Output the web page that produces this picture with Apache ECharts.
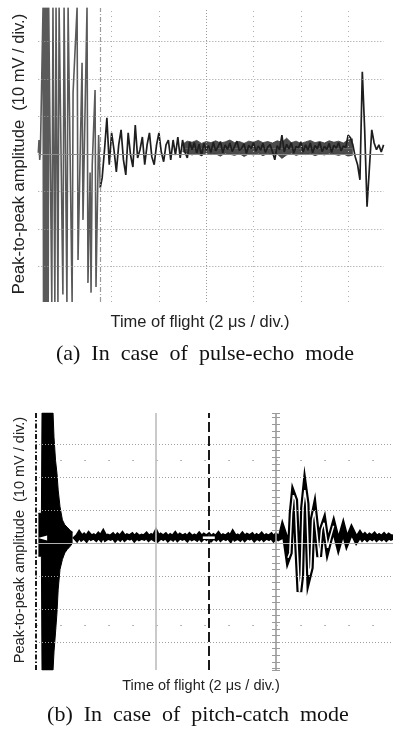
<!DOCTYPE html>
<html><head><meta charset="utf-8">
<script src="https://cdn.jsdelivr.net/npm/echarts@6/dist/echarts.min.js"></script>
<style>html,body{margin:0;padding:0;background:#fff}#c{width:393px;height:731px}</style>
</head><body><div id="c"></div>
<script>
// ---------------- DATA ----------------
// (a) pulse-echo : time in µs, amplitude in mV
const topBurstT = [0.90,0.93,0.96,0.99,1.06,1.10,1.12,1.14,1.16,1.18,1.20,1.22,1.24,1.26,1.28,1.30,1.32,1.34,1.47,1.52,1.60,1.65,1.73,1.78,1.94,1.99,2.11,2.16,2.33,2.37,2.54,2.58,2.75,2.79,2.96,3.00,3.09,3.13,3.18,3.30,3.34,3.45,3.52];
const topBurstV = [0.3,3.7,-1.6,1.0,0.5,39,-39.5,39,-39.5,39,-39.5,39,-39.5,39,-39.5,39,-39.5,39,-39.5,39,-39.5,39,-39.5,39,-37.5,39,-39.5,39,-39.5,16.3,39,-28.3,24.3,-17.6,39,-34.4,-5,-37,-3,17,-35.5,5,-9];
const topTailStart = 3.6, topTailStep = 0.1;
const topTailV = [
 -6.4,1.1,9.6,-2.9,5.6,1.1,-4.8,2.4,6.4,-1.6,
 -5.6,5.6,-0.3,-3.5,7.7,-1.1,1.1,4.5,-2.9,2.4,
 5.6,-0.8,-2.9,2.4,5.6,0.5,-2.1,2.4,3.7,-1.6,
 3.7,-0.3,4.5,-1.1,3.7,0.5,-1.1,3.2,1.1,3.0,
 0.2,2.6,-0.5,2.8,1.0,2.2,0.4,3.1,0.8,1.9,
 3.3,0.3,2.4,1.2,2.9,0.6,2.0,3.4,0.9,1.5,
 2.7,0.1,2.3,1.4,3.0,0.7,2.1,1.0,2.8,0.4,
 1.8,2.5,0.6,-1.6,2.2,1.1,5.0,0.5,2.6,1.3,
 3.0,0.2,2.0,1.6,3.2,0.5,2.4,1.0,2.9,0.3,
 2.2,1.4,3.1,0.6,2.0,1.2,2.8,0.4,2.3,1.5,
 3.0,0.8,2.1,1.7,5.0,4.3,2.4,-0.8,-2.9,-6.9,
 21.9,6.4,-14.1,-3.7,6.4,2.9,1.1,2.4,0.5,2.4];
// noise band (upper / lower extent of the dense trace), from 7.0 µs every 0.2 µs
const topBandStart = 7.0, topBandStep = 0.2, topBandMid = 1.5;
const topBandUp = [2.6,3.4,3.1,3.6,2.8,3.3,3.0, 3.5,2.9,3.2,3.7,3.0,3.3,2.8,3.4,3.1,3.6, 3.0,3.3,2.9,3.5,3.1,4.2,3.0,3.4,2.8,3.2, 3.6,3.0,3.3,2.9,3.5,3.1,3.4,2.9,3.7,4.0];
const topBandLo = [0.6,0.2,-0.3,0.1,-0.5,0.3,-0.2, 0.0,-0.6,0.2,-0.1,-0.4,0.1,-0.7,0.0,-0.3,0.2, -0.5,0.1,-0.2,0.0,-1.2,-0.3,0.2,-0.4,0.0,-0.2, 0.1,-0.5,0.0,-0.3,0.2,-0.1,-0.4,0.0,-0.6,-0.3];

// (b) pitch-catch
const botBurstT  = [0.2,0.45,0.5,1.42,1.5,1.63,1.75,1.85,2.0,2.2,2.4,2.6,2.85,3.05];
const botBurstUp = [9,9,39.4,39.4,32,25,21,16,11,7,5.5,4.8,3.8,3.3];
const botBurstLo = [-4,-4,-38.5,-38.5,-33,-27,-21,-14,-8,-5,-3,-2,-1,0];
const botNoiseStart = 3.2, botNoiseStep = 0.2;
const botNoiseV = [
 2.2,1.4,2.6,1.5,2.1,1.3,2.4,1.6,2.0,1.4,
 2.3,1.5,2.8,1.4,1.9,1.6,2.2,1.3,2.1,1.5,
 2.4,1.4,2.0,1.7,2.2,1.3,2.1,1.5,1.9,1.6,
 2.3,1.4,2.0,1.5,2.9,1.4,2.1,1.6,2.2,1.3,
 2.0,1.5,2.4,1.4,2.1,1.6,2.0,1.3,2.2,1.5,
 1.9,1.4,2.3,1.4,2.1,1.6,2.2,1.3,2.0,1.5,
 2.4,1.4,2.0,1.6,2.2,1.3,2.7,1.5,1.9,1.4,
 2.3,1.4,2.1,1.7,2.2,1.3,2.0,1.5,2.3,1.4,
 2.0,1.6,2.2,1.3,2.1,1.5,1.9];
const botEchoT = [20.55,20.75,21.0,21.15,21.3,21.45,21.6,21.75,21.95,22.1,22.25,22.4,22.55,22.75,22.9,23.05,23.2,23.4,23.6,23.8,24.0,24.3,24.55,24.8,25.2,25.6,25.9,26.3,26.7,27.0];
const botEchoV = [4.2,2.0,-4.5,-3.0,9.0,14.5,13.0,0.0,-14.8,-10.0,10.6,16.0,12.0,-9.7,-7.5,7.0,9.7,3.0,-4.2,4.0,6.1,-1.5,2.0,5.2,-0.6,4.5,0.3,3.9,0.9,2.6];
const botTailStart = 27.2, botTailStep = 0.2;
const botTailV = [1.5,2.2,1.4,2.1,1.6,2.3,1.4,2.0,1.5,2.2,1.4,2.1,1.6,1.9];

// graticule positions
const topVGrid = [4,6,10,12,14];
const topVCenter = 8;
const topCursor = 3.51;
const hGrid = [-30,-20,-10,10,20,30];
const botDotRows = [-25,25];
const botVSolid = [10,20];
const botCursor = 14.4;
const botRef = 0;

// texts
const yTitle = 'Peak-to-peak amplitude  (10 mV / div.)';
const xTitle = 'Time of flight (2 μs / div.)';
const captionA = '(a)  In  case  of  pulse-echo  mode';
const captionB = '(b)  In  case  of  pitch-catch  mode';

// ---------------- BUILD ----------------
const zip = (t, v) => t.map((x, i) => [x, v[i]]);
const seq = (s, d, v) => v.map((y, i) => [+(s + d * i).toFixed(3), y]);

const topBurst = zip(topBurstT, topBurstV);
const topTail = [topBurst[topBurst.length - 1]].concat(seq(topTailStart, topTailStep, topTailV));
const topBandHi = seq(topBandStart, topBandStep, topBandUp);
const topBandLow = seq(topBandStart, topBandStep, topBandLo);
const botUp = zip(botBurstT, botBurstUp);
const botLo = zip(botBurstT, botBurstLo);
const botTrace = seq(botNoiseStart, botNoiseStep, botNoiseV)
  .concat(zip(botEchoT, botEchoV))
  .concat(seq(botTailStart, botTailStep, botTailV));
const botEchoCore = zip(botEchoT, botEchoV).filter(p => p[0] >= 20.9 && p[0] <= 25.0);

const dotted = (c) => ({color: c, width: 1, type: [1, 2]});
const ml = (arr, key, style) => arr.map(v => ({[key]: v, lineStyle: style}));

const topMarks = []
  .concat(ml(hGrid, 'yAxis', dotted('#9a9a9a')))
  .concat(ml([0], 'yAxis', {color: '#8a8a8a', width: 1, type: 'solid'}))
  .concat(ml(topVGrid, 'xAxis', {color: '#b0b0b0', width: 1, type: [1, 4]}))
  .concat(ml([topVCenter], 'xAxis', {color: '#999', width: 1, type: [1, 2]}))
  .concat(ml([topCursor], 'xAxis', {color: '#9a9a9a', width: 1.2, type: [5, 2, 1, 2]}));

const botMarks = []
  .concat(ml(hGrid, 'yAxis', dotted('#a0a0a0')))
  .concat(ml(botDotRows, 'yAxis', {color: '#b5b5b5', width: 1, type: [2, 22], dashOffset: 0}))
  .concat(ml([0], 'yAxis', {color: '#b0b0b0', width: 1, type: 'solid'}))
  .concat(ml([botVSolid[0]], 'xAxis', {color: '#bdbdbd', width: 1.6, type: 'solid'}))
  .concat(ml([botVSolid[1]], 'xAxis', {color: '#9a9a9a', width: 1.6, type: 'solid'}))
  .concat(ml([botCursor], 'xAxis', {color: '#1a1a1a', width: 2, type: [10, 4]}))
  .concat(ml([botRef], 'xAxis', {color: '#1a1a1a', width: 2, type: [5, 2, 1.5, 2]}));

const markLineBase = {silent: true, symbol: 'none', label: {show: false}, animation: false};
const tickAxis = (pos, off) => ({
  gridIndex: 1, min: -38.5, max: 39.4, position: pos, offset: off, splitNumber: 8,
  axisLine: {show: false}, axisLabel: {show: false}, splitLine: {show: false},
  axisTick: {show: true, length: 4, lineStyle: {color: '#9a9a9a', width: 1}},
  minorTick: {show: true, splitNumber: 5, length: 4, lineStyle: {color: '#9a9a9a', width: 1}}
});
const band = (data) => ({type: 'line', xAxisIndex: 0, yAxisIndex: 0, data: data, symbol: 'none', z: 2,
  lineStyle: {color: '#3a3a3a', width: 0.8}, areaStyle: {color: '#2c2c2c', opacity: 0.85, origin: topBandMid}});

const chart = echarts.init(document.getElementById('c'), null, {renderer: 'canvas'});
chart.setOption({
  animation: false,
  backgroundColor: '#fff',
  grid: [
    {left: 38.3, right: 9.4, top: 8, height: 294},
    {left: 36, right: 0, top: 413, height: 257}
  ],
  xAxis: [
    {gridIndex: 0, type: 'value', min: 0.9, max: 15.5, show: false},
    {gridIndex: 1, type: 'value', min: 0, max: 29.75, show: false}
  ],
  yAxis: [
    {gridIndex: 0, type: 'value', min: -39.5, max: 38.9, show: false},
    {gridIndex: 1, type: 'value', min: -38.5, max: 39.4, show: false},
    tickAxis('left', -240),
    tickAxis('right', -117)
  ],
  series: [
    {type: 'line', xAxisIndex: 0, yAxisIndex: 0, data: [[0.9, 0]], symbol: 'none', lineStyle: {opacity: 0}, z: 1,
     markLine: Object.assign({data: topMarks}, markLineBase)},
    band(topBandHi),
    band(topBandLow),
    {type: 'line', xAxisIndex: 0, yAxisIndex: 0, data: topBurst, symbol: 'none', z: 3,
     lineStyle: {color: '#5a5a5a', width: 1.6}},
    {type: 'line', xAxisIndex: 0, yAxisIndex: 0, data: topTail, symbol: 'none', z: 4,
     lineStyle: {color: '#1e1e1e', width: 1.7}},

    {type: 'line', xAxisIndex: 1, yAxisIndex: 1, data: [[0, 0]], symbol: 'none', lineStyle: {opacity: 0}, z: 1,
     markLine: Object.assign({data: botMarks}, markLineBase)},
    {type: 'line', xAxisIndex: 1, yAxisIndex: 1, data: botUp, symbol: 'none', z: 3,
     lineStyle: {color: '#000', width: 1}, areaStyle: {color: '#000', opacity: 1, origin: 0}},
    {type: 'line', xAxisIndex: 1, yAxisIndex: 1, data: botLo, symbol: 'none', z: 3,
     lineStyle: {color: '#000', width: 1}, areaStyle: {color: '#000', opacity: 1, origin: 0}},
    {type: 'line', xAxisIndex: 1, yAxisIndex: 1, data: botTrace, symbol: 'none', z: 4,
     lineStyle: {color: '#000', width: 5.8, join: 'miter'},
     markPoint: {silent: true, animation: false, label: {show: false},
       data: [
         {coord: [0.55, 1.5], symbol: 'triangle', symbolRotate: 90, symbolSize: [5, 9], itemStyle: {color: '#fff'}},
         {coord: [botCursor, 1.6], symbol: 'rect', symbolSize: [12, 2.5], itemStyle: {color: '#fff'}}
       ]}},
    {type: 'line', xAxisIndex: 1, yAxisIndex: 1, data: botEchoCore, symbol: 'none', z: 5,
     lineStyle: {color: '#fff', width: 1.5}}
  ],
  graphic: [
    {type: 'text', x: 19, y: 154, rotation: Math.PI / 2, z: 10,
     style: {text: yTitle, x: 0, y: 0, font: '16.5px "Liberation Sans", Arial, sans-serif', fill: '#222',
             align: 'center', verticalAlign: 'middle', textAlign: 'center', textVerticalAlign: 'middle'}},
    {type: 'text', x: 200, y: 322, z: 10,
     style: {text: xTitle, x: 0, y: 0, font: '16.5px "Liberation Sans", Arial, sans-serif', fill: '#222',
             align: 'center', verticalAlign: 'middle', textAlign: 'center', textVerticalAlign: 'middle'}},
    {type: 'text', x: 205, y: 354, z: 10,
     style: {text: captionA, x: 0, y: 0, font: '22px "Liberation Serif", "Times New Roman", serif', fill: '#111',
             align: 'center', verticalAlign: 'middle', textAlign: 'center', textVerticalAlign: 'middle'}},
    {type: 'text', x: 20, y: 540, rotation: Math.PI / 2, z: 10,
     style: {text: yTitle, x: 0, y: 0, font: '14.5px "Liberation Sans", Arial, sans-serif', fill: '#222',
             align: 'center', verticalAlign: 'middle', textAlign: 'center', textVerticalAlign: 'middle'}},
    {type: 'text', x: 201, y: 686, z: 10,
     style: {text: xTitle, x: 0, y: 0, font: '14.5px "Liberation Sans", Arial, sans-serif', fill: '#222',
             align: 'center', verticalAlign: 'middle', textAlign: 'center', textVerticalAlign: 'middle'}},
    {type: 'text', x: 198, y: 715, z: 10,
     style: {text: captionB, x: 0, y: 0, font: '22px "Liberation Serif", "Times New Roman", serif', fill: '#111',
             align: 'center', verticalAlign: 'middle', textAlign: 'center', textVerticalAlign: 'middle'}}
  ]
});
</script>
</body></html>
